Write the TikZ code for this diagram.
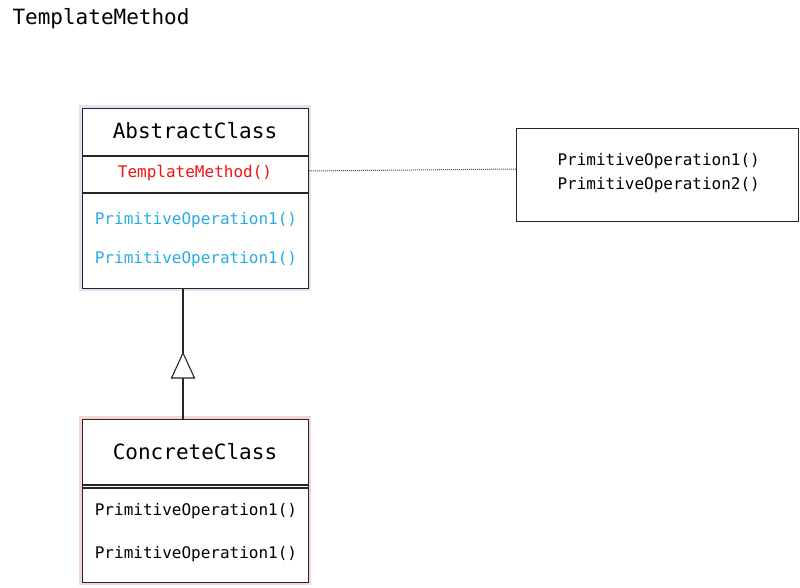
\documentclass[tikz,border=0pt]{standalone}
\usepackage{fontspec}
\setmainfont{DejaVu Sans Mono}
\definecolor{opred}{RGB}{240,20,20}
\definecolor{opblue}{RGB}{40,172,230}
\definecolor{glowblue}{RGB}{200,195,230}
\definecolor{glowpink}{RGB}{235,170,170}
\begin{document}
\begin{tikzpicture}[x=1pt,y=-1pt,
  box/.style={draw=black!85,line width=1.2pt,anchor=north west,inner sep=0pt},
  title/.style={font=\fontsize{21}{24}\selectfont},
  op/.style={font=\fontsize{16}{19}\selectfont},
  conn/.style={draw=black!85,line width=1.1pt}]
\useasboundingbox (0,0) rectangle (800,588);
\node[title,anchor=west] (hdr) at (9,19) {TemplateMethod};
% abstract class
\draw[glowblue,line width=3pt,opacity=0.5] (80.5,106.5) rectangle (309.5,289.5);
\node[box,fill=white,minimum width=226pt,minimum height=180pt] (abs) at (82,108) {};
\draw[conn] (82,156) -- (308,156);
\draw[conn] (82,193) -- (308,193);
\node[title] (absname) at (195,131) {AbstractClass};
\node[op,text=opred] (tm) at (195,173) {TemplateMethod()};
\node[op,text=opblue] (ao1) at (196,220) {PrimitiveOperation1()};
\node[op,text=opblue] (ao2) at (196,259) {PrimitiveOperation1()};
% note
\node[box,minimum width=282pt,minimum height=93pt] (note) at (516,128) {};
\node[op,anchor=west] (n1) at (554,161) {PrimitiveOperation1()};
\node[op,anchor=west] (n2) at (554,185) {PrimitiveOperation2()};
\coordinate (dl) at (309,171);
\draw[black!70,densely dotted,line width=1pt] (dl) -- (note.west |- 0,169);
% concrete class
\draw[glowpink,line width=3pt,opacity=0.5] (80.5,417.5) rectangle (309.5,583.5);
\node[box,fill=white,minimum width=226pt,minimum height=163pt] (conc) at (82,419) {};
\draw[conn] (82,485) -- (308,485);
\draw[conn] (82,488) -- (308,488);
\node[title] (concname) at (195,452) {ConcreteClass};
\node[op] (co1) at (196,511) {PrimitiveOperation1()};
\node[op] (co2) at (196,554) {PrimitiveOperation1()};
% inheritance
\coordinate (tt) at (183,353);
\coordinate (tl) at (171.5,378);
\coordinate (tr) at (194.5,378);
\coordinate (tb) at (183,378);
\draw[conn] (abs.south -| tt) -- (tt);
\draw[conn] (tb) -- (conc.north -| tb);
\draw[conn,fill=white,line join=miter] (tt) -- (tl) -- (tr) -- cycle;
\end{tikzpicture}
\end{document}
